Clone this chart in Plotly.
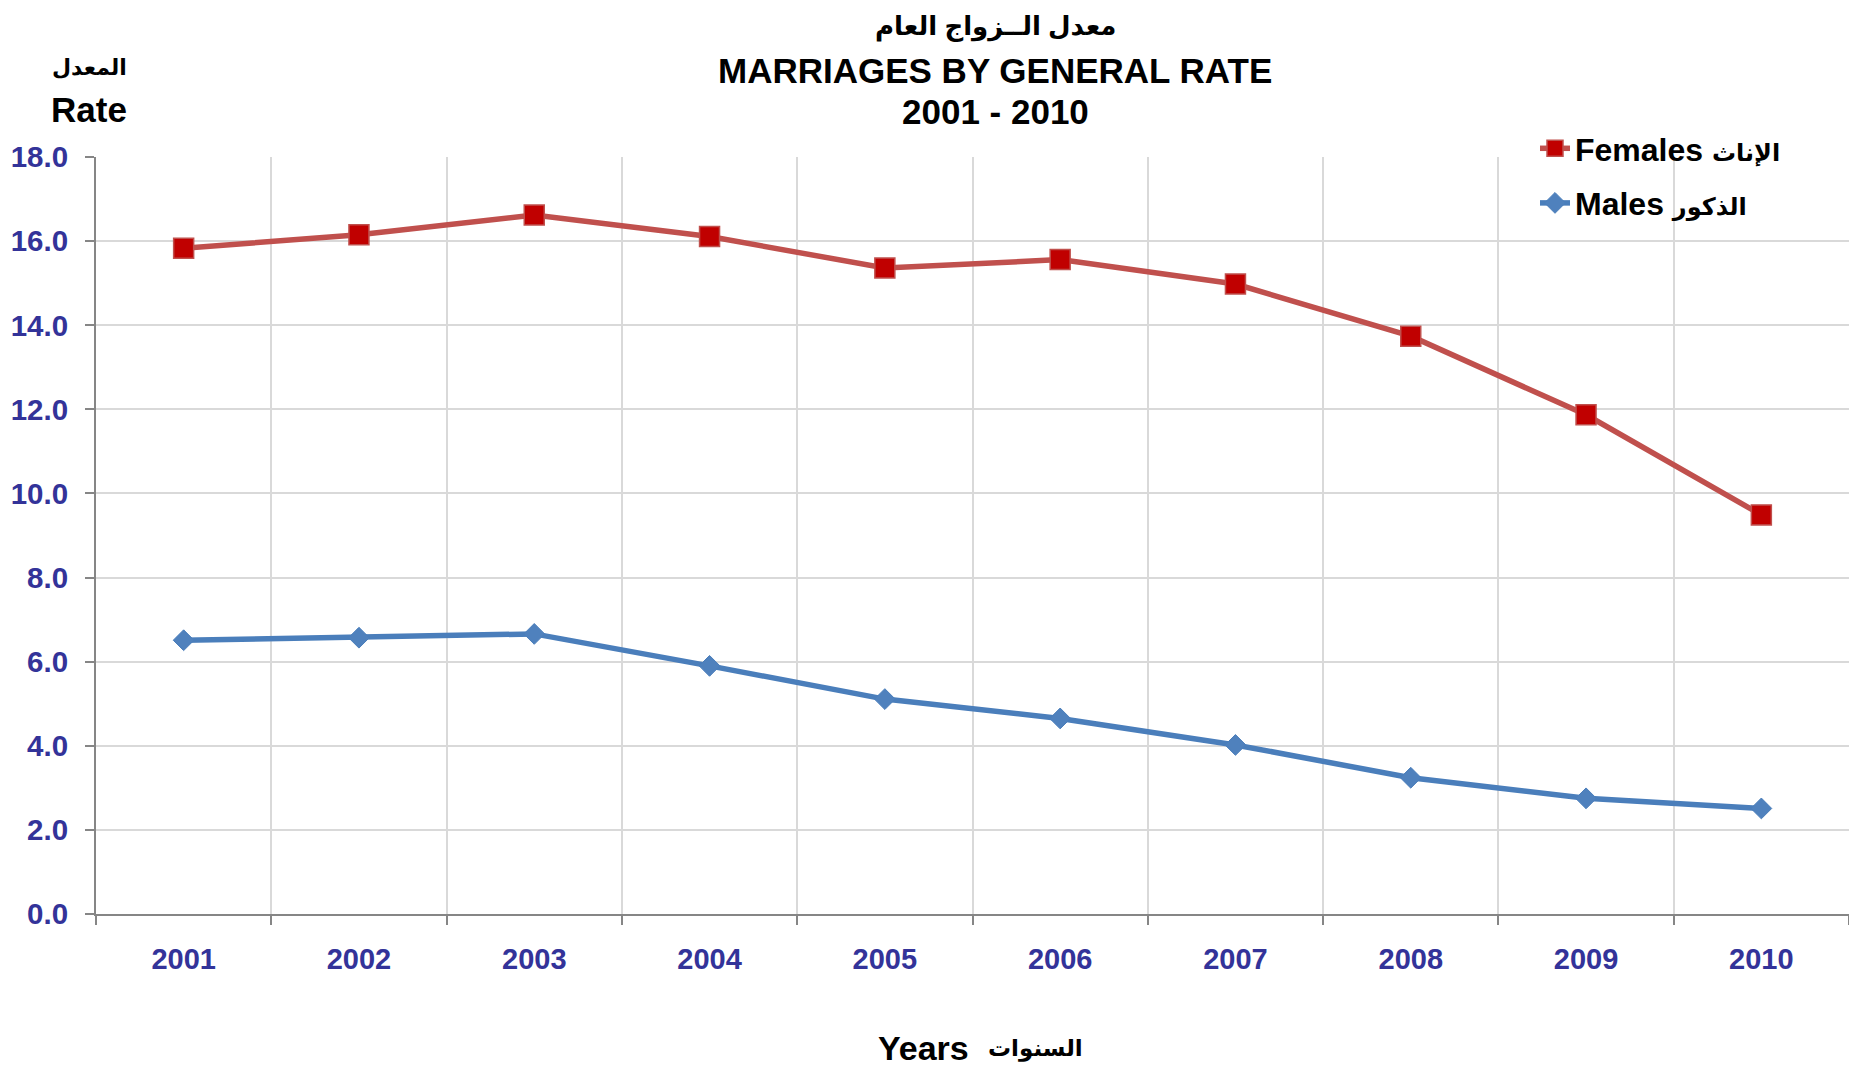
import plotly.graph_objects as go

years = ["2001", "2002", "2003", "2004", "2005", "2006", "2007", "2008", "2009", "2010"]
females = [15.83, 16.15, 16.62, 16.11, 15.36, 15.56, 14.98, 13.74, 11.87, 9.49]
males = [6.51, 6.57, 6.66, 5.90, 5.11, 4.65, 4.02, 3.24, 2.75, 2.51]
y_ticks = [0, 2, 4, 6, 8, 10, 12, 14, 16, 18]

W, H = 1857, 1068
OFF = 8  # default page body margin
# target plot area in window pixels: x 96..1849, y 157..914
L, T = 96 - OFF, 157 - OFF
R = W - (1849 - OFF)
B = H - (914 - OFF)
PW, PH = W - L - R, H - T - B

def px(x):
    return (x - OFF - L) / PW

def py(y):
    return (H - B - (y - OFF)) / PH

FONT = "Liberation Sans, Arial, DejaVu Sans, sans-serif"
TICKC = "#333399"

fig = go.Figure()
fig.add_trace(go.Scatter(
    x=years, y=females, mode="lines+markers",
    name="Females <span style='font-size:24px'>الإناث</span>",
    line=dict(color="#C0504D", width=5.5),
    marker=dict(symbol="square", size=20, color="#C00000", line=dict(color="#C0504D", width=1.5)),
    legendgroup="f",
))
fig.add_trace(go.Scatter(
    x=years, y=males, mode="lines+markers",
    name="Males <span style='font-size:24px'>الذكور</span>",
    line=dict(color="#4A7EBB", width=5.5),
    marker=dict(symbol="diamond", size=16, color="#4F81BD", line=dict(color="#4A7EBB", width=1)),
    legendgroup="m",
))

fig.update_layout(
    width=W, height=H,
    margin=dict(l=L, r=R, t=T, b=B, autoexpand=False),
    paper_bgcolor="white", plot_bgcolor="white",
    font=dict(family=FONT, color="black"),
    showlegend=True,
    legend=dict(
        x=px(1535), y=py(121), xanchor="left", yanchor="top",
        font=dict(size=32, family=FONT, color="black", weight="bold"),
        bgcolor="rgba(0,0,0,0)", tracegroupgap=10, traceorder="grouped",
    ),
    xaxis=dict(
        type="category", range=[-0.5, 9.5], tickson="boundaries",
        showgrid=True, gridcolor="#D9D9D9", gridwidth=1.5,
        showline=True, linecolor="#868686", linewidth=2,
        ticks="outside", ticklen=9, tickcolor="#868686", tickwidth=2,
        tickfont=dict(size=29, color=TICKC, family=FONT, weight="bold"),
        ticklabelstandoff=18, automargin=False,
    ),
    yaxis=dict(
        range=[0, 18], tickvals=y_ticks, tickformat=".1f",
        showgrid=True, gridcolor="#D9D9D9", gridwidth=1.5,
        showline=True, linecolor="#868686", linewidth=2,
        ticks="outside", ticklen=9, tickcolor="#868686", tickwidth=2,
        tickfont=dict(size=29.5, color=TICKC, family=FONT, weight="bold"),
        ticklabelstandoff=11, zeroline=False, automargin=False,
    ),
)

ann = [
    ("معدل الــزواج العام", 995, 26, 26),
    ("MARRIAGES BY GENERAL RATE", 995, 70, 35),
    ("2001 - 2010", 995, 111, 35),
    ("المعدل", 89, 67, 22),
    ("Rate", 89, 110, 35),
    ("Years", 923, 1048, 34),
    ("السنوات", 1035, 1048, 23),
]
for text, x, y, s in ann:
    fig.add_annotation(
        text=text, x=px(x), y=py(y), xref="paper", yref="paper",
        xanchor="center", yanchor="middle", showarrow=False,
        font=dict(size=s, family=FONT, color="black", weight="bold"),
    )

fig.write_html("out.html")
